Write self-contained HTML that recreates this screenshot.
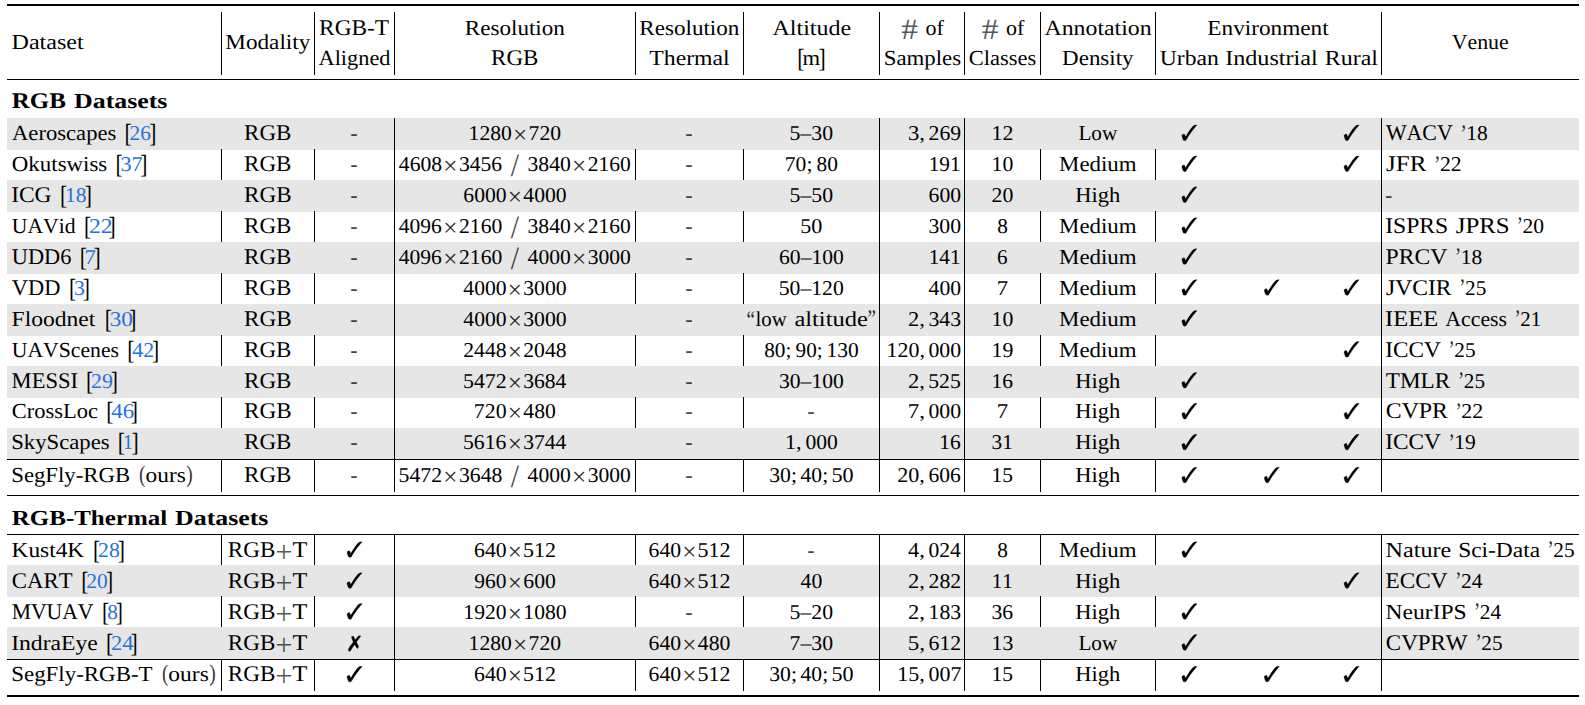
<!DOCTYPE html>
<html lang="en"><head><meta charset="utf-8"><title>Dataset comparison table</title>
<style>
html,body{margin:0;padding:0;background:#fff}
#p{position:relative;width:1585px;height:705px;overflow:hidden;background:#fff;font-family:"Liberation Serif",serif}
#p svg{position:absolute;left:0;top:0}
.t{position:absolute;left:0;top:0;white-space:pre;font:21.65px/30px "Liberation Serif",serif;font-kerning:none;text-rendering:geometricPrecision;transform-origin:0 0;color:#000}
.b{font-weight:bold}
.c{color:#2472de}
</style></head><body>
<div id="p">

<svg width="1585" height="705" viewBox="0 0 1585 705" shape-rendering="crispEdges">
<rect x="221" y="12" width="1" height="63" fill="#000"/>
<rect x="221" y="118" width="1" height="374" fill="#000"/>
<rect x="221" y="534" width="1" height="157" fill="#000"/>
<rect x="314" y="12" width="1" height="63" fill="#000"/>
<rect x="314" y="118" width="1" height="374" fill="#000"/>
<rect x="314" y="534" width="1" height="157" fill="#000"/>
<rect x="394" y="12" width="1" height="63" fill="#000"/>
<rect x="394" y="118" width="1" height="374" fill="#000"/>
<rect x="394" y="534" width="1" height="157" fill="#000"/>
<rect x="635" y="12" width="1" height="63" fill="#000"/>
<rect x="635" y="118" width="1" height="374" fill="#000"/>
<rect x="635" y="534" width="1" height="157" fill="#000"/>
<rect x="743" y="12" width="1" height="63" fill="#000"/>
<rect x="743" y="118" width="1" height="374" fill="#000"/>
<rect x="743" y="534" width="1" height="157" fill="#000"/>
<rect x="879" y="12" width="1" height="63" fill="#000"/>
<rect x="879" y="118" width="1" height="374" fill="#000"/>
<rect x="879" y="534" width="1" height="157" fill="#000"/>
<rect x="964" y="12" width="1" height="63" fill="#000"/>
<rect x="964" y="118" width="1" height="374" fill="#000"/>
<rect x="964" y="534" width="1" height="157" fill="#000"/>
<rect x="1040" y="12" width="1" height="63" fill="#000"/>
<rect x="1040" y="118" width="1" height="374" fill="#000"/>
<rect x="1040" y="534" width="1" height="157" fill="#000"/>
<rect x="1155" y="12" width="1" height="63" fill="#000"/>
<rect x="1155" y="118" width="1" height="374" fill="#000"/>
<rect x="1155" y="534" width="1" height="157" fill="#000"/>
<rect x="1381" y="12" width="1" height="63" fill="#000"/>
<rect x="1381" y="118" width="1" height="374" fill="#000"/>
<rect x="1381" y="534" width="1" height="157" fill="#000"/>
<rect x="7" y="118" width="1572" height="32" fill="#e6e6e6"/>
<rect x="7" y="180" width="1572" height="32" fill="#e6e6e6"/>
<rect x="7" y="242" width="1572" height="32" fill="#e6e6e6"/>
<rect x="7" y="304" width="1572" height="32" fill="#e6e6e6"/>
<rect x="7" y="366" width="1572" height="32" fill="#e6e6e6"/>
<rect x="7" y="428" width="1572" height="31" fill="#e6e6e6"/>
<rect x="7" y="565" width="1572" height="32" fill="#e6e6e6"/>
<rect x="7" y="627" width="1572" height="32" fill="#e6e6e6"/>
<rect x="394" y="118" width="1" height="32" fill="#000"/>
<rect x="394" y="180" width="1" height="32" fill="#000"/>
<rect x="394" y="242" width="1" height="32" fill="#000"/>
<rect x="394" y="304" width="1" height="32" fill="#000"/>
<rect x="394" y="366" width="1" height="32" fill="#000"/>
<rect x="394" y="428" width="1" height="31" fill="#000"/>
<rect x="394" y="565" width="1" height="32" fill="#000"/>
<rect x="394" y="627" width="1" height="32" fill="#000"/>
<rect x="879" y="118" width="1" height="32" fill="#000"/>
<rect x="879" y="180" width="1" height="32" fill="#000"/>
<rect x="879" y="242" width="1" height="32" fill="#000"/>
<rect x="879" y="304" width="1" height="32" fill="#000"/>
<rect x="879" y="366" width="1" height="32" fill="#000"/>
<rect x="879" y="428" width="1" height="31" fill="#000"/>
<rect x="879" y="565" width="1" height="32" fill="#000"/>
<rect x="879" y="627" width="1" height="32" fill="#000"/>
<rect x="964" y="118" width="1" height="32" fill="#000"/>
<rect x="964" y="180" width="1" height="32" fill="#000"/>
<rect x="964" y="242" width="1" height="32" fill="#000"/>
<rect x="964" y="304" width="1" height="32" fill="#000"/>
<rect x="964" y="366" width="1" height="32" fill="#000"/>
<rect x="964" y="428" width="1" height="31" fill="#000"/>
<rect x="964" y="565" width="1" height="32" fill="#000"/>
<rect x="964" y="627" width="1" height="32" fill="#000"/>
<rect x="1381" y="118" width="1" height="32" fill="#000"/>
<rect x="1381" y="180" width="1" height="32" fill="#000"/>
<rect x="1381" y="242" width="1" height="32" fill="#000"/>
<rect x="1381" y="304" width="1" height="32" fill="#000"/>
<rect x="1381" y="366" width="1" height="32" fill="#000"/>
<rect x="1381" y="428" width="1" height="31" fill="#000"/>
<rect x="1381" y="565" width="1" height="32" fill="#000"/>
<rect x="1381" y="627" width="1" height="32" fill="#000"/>
<rect x="221" y="149" width="1" height="1" fill="#000"/>
<rect x="221" y="211" width="1" height="1" fill="#000"/>
<rect x="221" y="273" width="1" height="1" fill="#000"/>
<rect x="221" y="335" width="1" height="1" fill="#000"/>
<rect x="221" y="397" width="1" height="1" fill="#000"/>
<rect x="221" y="596" width="1" height="1" fill="#000"/>
<rect x="314" y="149" width="1" height="1" fill="#000"/>
<rect x="314" y="211" width="1" height="1" fill="#000"/>
<rect x="314" y="273" width="1" height="1" fill="#000"/>
<rect x="314" y="335" width="1" height="1" fill="#000"/>
<rect x="314" y="397" width="1" height="1" fill="#000"/>
<rect x="314" y="596" width="1" height="1" fill="#000"/>
<rect x="635" y="149" width="1" height="1" fill="#000"/>
<rect x="635" y="211" width="1" height="1" fill="#000"/>
<rect x="635" y="273" width="1" height="1" fill="#000"/>
<rect x="635" y="335" width="1" height="1" fill="#000"/>
<rect x="635" y="397" width="1" height="1" fill="#000"/>
<rect x="635" y="596" width="1" height="1" fill="#000"/>
<rect x="743" y="149" width="1" height="1" fill="#000"/>
<rect x="743" y="211" width="1" height="1" fill="#000"/>
<rect x="743" y="273" width="1" height="1" fill="#000"/>
<rect x="743" y="335" width="1" height="1" fill="#000"/>
<rect x="743" y="397" width="1" height="1" fill="#000"/>
<rect x="743" y="596" width="1" height="1" fill="#000"/>
<rect x="1040" y="149" width="1" height="1" fill="#000"/>
<rect x="1040" y="211" width="1" height="1" fill="#000"/>
<rect x="1040" y="273" width="1" height="1" fill="#000"/>
<rect x="1040" y="335" width="1" height="1" fill="#000"/>
<rect x="1040" y="397" width="1" height="1" fill="#000"/>
<rect x="1040" y="596" width="1" height="1" fill="#000"/>
<rect x="1155" y="149" width="1" height="1" fill="#000"/>
<rect x="1155" y="211" width="1" height="1" fill="#000"/>
<rect x="1155" y="273" width="1" height="1" fill="#000"/>
<rect x="1155" y="335" width="1" height="1" fill="#000"/>
<rect x="1155" y="397" width="1" height="1" fill="#000"/>
<rect x="1155" y="596" width="1" height="1" fill="#000"/>
<rect x="7" y="4" width="1572" height="2" fill="#000"/>
<rect x="7" y="79" width="1572" height="1" fill="#000"/>
<rect x="7" y="459" width="1572" height="1" fill="#000"/>
<rect x="7" y="495" width="1572" height="1" fill="#000"/>
<rect x="7" y="534" width="1572" height="1" fill="#000"/>
<rect x="7" y="659" width="1572" height="1" fill="#000"/>
<rect x="7" y="695" width="1572" height="2" fill="#000"/>
<g shape-rendering="geometricPrecision" stroke="#000" stroke-width="13.8568" stroke-linejoin="round">
<path transform="translate(1181.14 140.25) scale(0.02165 -0.02165)" d="M721 705C665 706 598 686 557 657C480 580 335 378 231 202C218 179 212 172 206 172C200 172 193 180 186 197L157 268C151 283 146 288 134 288C112 288 80 274 52 253C39 243 34 234 34 221C34 180 68 77 106 4C114 -12 120 -14 161 -14C211 -14 223 -10 234 10C342 211 572 531 721 689Z"/>
<path transform="translate(1343.34 140.25) scale(0.02165 -0.02165)" d="M721 705C665 706 598 686 557 657C480 580 335 378 231 202C218 179 212 172 206 172C200 172 193 180 186 197L157 268C151 283 146 288 134 288C112 288 80 274 52 253C39 243 34 234 34 221C34 180 68 77 106 4C114 -12 120 -14 161 -14C211 -14 223 -10 234 10C342 211 572 531 721 689Z"/>
<path transform="translate(1181.14 171.18) scale(0.02165 -0.02165)" d="M721 705C665 706 598 686 557 657C480 580 335 378 231 202C218 179 212 172 206 172C200 172 193 180 186 197L157 268C151 283 146 288 134 288C112 288 80 274 52 253C39 243 34 234 34 221C34 180 68 77 106 4C114 -12 120 -14 161 -14C211 -14 223 -10 234 10C342 211 572 531 721 689Z"/>
<path transform="translate(1343.34 171.18) scale(0.02165 -0.02165)" d="M721 705C665 706 598 686 557 657C480 580 335 378 231 202C218 179 212 172 206 172C200 172 193 180 186 197L157 268C151 283 146 288 134 288C112 288 80 274 52 253C39 243 34 234 34 221C34 180 68 77 106 4C114 -12 120 -14 161 -14C211 -14 223 -10 234 10C342 211 572 531 721 689Z"/>
<path transform="translate(1181.14 202.11) scale(0.02165 -0.02165)" d="M721 705C665 706 598 686 557 657C480 580 335 378 231 202C218 179 212 172 206 172C200 172 193 180 186 197L157 268C151 283 146 288 134 288C112 288 80 274 52 253C39 243 34 234 34 221C34 180 68 77 106 4C114 -12 120 -14 161 -14C211 -14 223 -10 234 10C342 211 572 531 721 689Z"/>
<path transform="translate(1181.14 233.04) scale(0.02165 -0.02165)" d="M721 705C665 706 598 686 557 657C480 580 335 378 231 202C218 179 212 172 206 172C200 172 193 180 186 197L157 268C151 283 146 288 134 288C112 288 80 274 52 253C39 243 34 234 34 221C34 180 68 77 106 4C114 -12 120 -14 161 -14C211 -14 223 -10 234 10C342 211 572 531 721 689Z"/>
<path transform="translate(1181.14 263.97) scale(0.02165 -0.02165)" d="M721 705C665 706 598 686 557 657C480 580 335 378 231 202C218 179 212 172 206 172C200 172 193 180 186 197L157 268C151 283 146 288 134 288C112 288 80 274 52 253C39 243 34 234 34 221C34 180 68 77 106 4C114 -12 120 -14 161 -14C211 -14 223 -10 234 10C342 211 572 531 721 689Z"/>
<path transform="translate(1181.14 294.90) scale(0.02165 -0.02165)" d="M721 705C665 706 598 686 557 657C480 580 335 378 231 202C218 179 212 172 206 172C200 172 193 180 186 197L157 268C151 283 146 288 134 288C112 288 80 274 52 253C39 243 34 234 34 221C34 180 68 77 106 4C114 -12 120 -14 161 -14C211 -14 223 -10 234 10C342 211 572 531 721 689Z"/>
<path transform="translate(1263.54 294.90) scale(0.02165 -0.02165)" d="M721 705C665 706 598 686 557 657C480 580 335 378 231 202C218 179 212 172 206 172C200 172 193 180 186 197L157 268C151 283 146 288 134 288C112 288 80 274 52 253C39 243 34 234 34 221C34 180 68 77 106 4C114 -12 120 -14 161 -14C211 -14 223 -10 234 10C342 211 572 531 721 689Z"/>
<path transform="translate(1343.34 294.90) scale(0.02165 -0.02165)" d="M721 705C665 706 598 686 557 657C480 580 335 378 231 202C218 179 212 172 206 172C200 172 193 180 186 197L157 268C151 283 146 288 134 288C112 288 80 274 52 253C39 243 34 234 34 221C34 180 68 77 106 4C114 -12 120 -14 161 -14C211 -14 223 -10 234 10C342 211 572 531 721 689Z"/>
<path transform="translate(1181.14 325.83) scale(0.02165 -0.02165)" d="M721 705C665 706 598 686 557 657C480 580 335 378 231 202C218 179 212 172 206 172C200 172 193 180 186 197L157 268C151 283 146 288 134 288C112 288 80 274 52 253C39 243 34 234 34 221C34 180 68 77 106 4C114 -12 120 -14 161 -14C211 -14 223 -10 234 10C342 211 572 531 721 689Z"/>
<path transform="translate(1343.34 356.76) scale(0.02165 -0.02165)" d="M721 705C665 706 598 686 557 657C480 580 335 378 231 202C218 179 212 172 206 172C200 172 193 180 186 197L157 268C151 283 146 288 134 288C112 288 80 274 52 253C39 243 34 234 34 221C34 180 68 77 106 4C114 -12 120 -14 161 -14C211 -14 223 -10 234 10C342 211 572 531 721 689Z"/>
<path transform="translate(1181.14 387.69) scale(0.02165 -0.02165)" d="M721 705C665 706 598 686 557 657C480 580 335 378 231 202C218 179 212 172 206 172C200 172 193 180 186 197L157 268C151 283 146 288 134 288C112 288 80 274 52 253C39 243 34 234 34 221C34 180 68 77 106 4C114 -12 120 -14 161 -14C211 -14 223 -10 234 10C342 211 572 531 721 689Z"/>
<path transform="translate(1181.14 418.62) scale(0.02165 -0.02165)" d="M721 705C665 706 598 686 557 657C480 580 335 378 231 202C218 179 212 172 206 172C200 172 193 180 186 197L157 268C151 283 146 288 134 288C112 288 80 274 52 253C39 243 34 234 34 221C34 180 68 77 106 4C114 -12 120 -14 161 -14C211 -14 223 -10 234 10C342 211 572 531 721 689Z"/>
<path transform="translate(1343.34 418.62) scale(0.02165 -0.02165)" d="M721 705C665 706 598 686 557 657C480 580 335 378 231 202C218 179 212 172 206 172C200 172 193 180 186 197L157 268C151 283 146 288 134 288C112 288 80 274 52 253C39 243 34 234 34 221C34 180 68 77 106 4C114 -12 120 -14 161 -14C211 -14 223 -10 234 10C342 211 572 531 721 689Z"/>
<path transform="translate(1181.14 449.56) scale(0.02165 -0.02165)" d="M721 705C665 706 598 686 557 657C480 580 335 378 231 202C218 179 212 172 206 172C200 172 193 180 186 197L157 268C151 283 146 288 134 288C112 288 80 274 52 253C39 243 34 234 34 221C34 180 68 77 106 4C114 -12 120 -14 161 -14C211 -14 223 -10 234 10C342 211 572 531 721 689Z"/>
<path transform="translate(1343.34 449.56) scale(0.02165 -0.02165)" d="M721 705C665 706 598 686 557 657C480 580 335 378 231 202C218 179 212 172 206 172C200 172 193 180 186 197L157 268C151 283 146 288 134 288C112 288 80 274 52 253C39 243 34 234 34 221C34 180 68 77 106 4C114 -12 120 -14 161 -14C211 -14 223 -10 234 10C342 211 572 531 721 689Z"/>
<path transform="translate(1181.14 482.41) scale(0.02165 -0.02165)" d="M721 705C665 706 598 686 557 657C480 580 335 378 231 202C218 179 212 172 206 172C200 172 193 180 186 197L157 268C151 283 146 288 134 288C112 288 80 274 52 253C39 243 34 234 34 221C34 180 68 77 106 4C114 -12 120 -14 161 -14C211 -14 223 -10 234 10C342 211 572 531 721 689Z"/>
<path transform="translate(1263.54 482.41) scale(0.02165 -0.02165)" d="M721 705C665 706 598 686 557 657C480 580 335 378 231 202C218 179 212 172 206 172C200 172 193 180 186 197L157 268C151 283 146 288 134 288C112 288 80 274 52 253C39 243 34 234 34 221C34 180 68 77 106 4C114 -12 120 -14 161 -14C211 -14 223 -10 234 10C342 211 572 531 721 689Z"/>
<path transform="translate(1343.34 482.41) scale(0.02165 -0.02165)" d="M721 705C665 706 598 686 557 657C480 580 335 378 231 202C218 179 212 172 206 172C200 172 193 180 186 197L157 268C151 283 146 288 134 288C112 288 80 274 52 253C39 243 34 234 34 221C34 180 68 77 106 4C114 -12 120 -14 161 -14C211 -14 223 -10 234 10C342 211 572 531 721 689Z"/>
<path transform="translate(346.33 556.96) scale(0.02165 -0.02165)" d="M721 705C665 706 598 686 557 657C480 580 335 378 231 202C218 179 212 172 206 172C200 172 193 180 186 197L157 268C151 283 146 288 134 288C112 288 80 274 52 253C39 243 34 234 34 221C34 180 68 77 106 4C114 -12 120 -14 161 -14C211 -14 223 -10 234 10C342 211 572 531 721 689Z"/>
<path transform="translate(1181.14 556.96) scale(0.02165 -0.02165)" d="M721 705C665 706 598 686 557 657C480 580 335 378 231 202C218 179 212 172 206 172C200 172 193 180 186 197L157 268C151 283 146 288 134 288C112 288 80 274 52 253C39 243 34 234 34 221C34 180 68 77 106 4C114 -12 120 -14 161 -14C211 -14 223 -10 234 10C342 211 572 531 721 689Z"/>
<path transform="translate(346.33 587.96) scale(0.02165 -0.02165)" d="M721 705C665 706 598 686 557 657C480 580 335 378 231 202C218 179 212 172 206 172C200 172 193 180 186 197L157 268C151 283 146 288 134 288C112 288 80 274 52 253C39 243 34 234 34 221C34 180 68 77 106 4C114 -12 120 -14 161 -14C211 -14 223 -10 234 10C342 211 572 531 721 689Z"/>
<path transform="translate(1343.34 587.96) scale(0.02165 -0.02165)" d="M721 705C665 706 598 686 557 657C480 580 335 378 231 202C218 179 212 172 206 172C200 172 193 180 186 197L157 268C151 283 146 288 134 288C112 288 80 274 52 253C39 243 34 234 34 221C34 180 68 77 106 4C114 -12 120 -14 161 -14C211 -14 223 -10 234 10C342 211 572 531 721 689Z"/>
<path transform="translate(346.33 618.86) scale(0.02165 -0.02165)" d="M721 705C665 706 598 686 557 657C480 580 335 378 231 202C218 179 212 172 206 172C200 172 193 180 186 197L157 268C151 283 146 288 134 288C112 288 80 274 52 253C39 243 34 234 34 221C34 180 68 77 106 4C114 -12 120 -14 161 -14C211 -14 223 -10 234 10C342 211 572 531 721 689Z"/>
<path transform="translate(1181.14 618.86) scale(0.02165 -0.02165)" d="M721 705C665 706 598 686 557 657C480 580 335 378 231 202C218 179 212 172 206 172C200 172 193 180 186 197L157 268C151 283 146 288 134 288C112 288 80 274 52 253C39 243 34 234 34 221C34 180 68 77 106 4C114 -12 120 -14 161 -14C211 -14 223 -10 234 10C342 211 572 531 721 689Z"/>
<path transform="translate(348.32 649.86) scale(0.02165 -0.02165)" d="M374 367C421 432 516 556 534 576C543 587 551 597 560 607C564 612 568 616 569 618C571 619 572 621 572 622C572 623 566 633 564 635L555 645C555 646 553 649 551 652C547 658 546 660 545 660H544C543 660 541 658 540 657C536 653 533 650 530 646C529 645 527 643 523 640C510 650 493 660 488 660C484 660 482 658 447 619C373 533 336 489 318 467C313 479 313 479 305 494C286 529 272 557 261 579C233 636 233 636 225 636C222 636 218 634 217 633C215 630 213 627 211 625L204 618C200 619 198 619 196 619C194 619 192 619 188 618C181 623 177 625 173 625C163 625 145 603 145 591C145 590 148 582 152 572L184 479C196 447 207 416 219 385C220 381 224 371 229 356C106 206 69 158 51 126C32 92 19 69 15 64C5 51 -1 41 -1 35C-1 34 2 27 6 17C7 14 8 11 8 10C8 8 6 1 3 -9C2 -12 1 -14 1 -16C1 -24 1 -24 23 -59C28 -68 30 -69 38 -69C56 -69 80 -64 90 -57C137 24 217 149 288 250C321 193 321 193 388 94C407 67 412 61 420 61C432 61 452 77 452 86C452 88 451 91 449 95C448 96 448 98 448 99C448 101 451 104 458 109L468 117V124C476 128 479 131 482 138L479 148C475 156 475 157 462 184C444 223 426 262 399 317Z"/>
<path transform="translate(1181.14 649.86) scale(0.02165 -0.02165)" d="M721 705C665 706 598 686 557 657C480 580 335 378 231 202C218 179 212 172 206 172C200 172 193 180 186 197L157 268C151 283 146 288 134 288C112 288 80 274 52 253C39 243 34 234 34 221C34 180 68 77 106 4C114 -12 120 -14 161 -14C211 -14 223 -10 234 10C342 211 572 531 721 689Z"/>
<path transform="translate(346.33 681.56) scale(0.02165 -0.02165)" d="M721 705C665 706 598 686 557 657C480 580 335 378 231 202C218 179 212 172 206 172C200 172 193 180 186 197L157 268C151 283 146 288 134 288C112 288 80 274 52 253C39 243 34 234 34 221C34 180 68 77 106 4C114 -12 120 -14 161 -14C211 -14 223 -10 234 10C342 211 572 531 721 689Z"/>
<path transform="translate(1181.14 681.56) scale(0.02165 -0.02165)" d="M721 705C665 706 598 686 557 657C480 580 335 378 231 202C218 179 212 172 206 172C200 172 193 180 186 197L157 268C151 283 146 288 134 288C112 288 80 274 52 253C39 243 34 234 34 221C34 180 68 77 106 4C114 -12 120 -14 161 -14C211 -14 223 -10 234 10C342 211 572 531 721 689Z"/>
<path transform="translate(1263.54 681.56) scale(0.02165 -0.02165)" d="M721 705C665 706 598 686 557 657C480 580 335 378 231 202C218 179 212 172 206 172C200 172 193 180 186 197L157 268C151 283 146 288 134 288C112 288 80 274 52 253C39 243 34 234 34 221C34 180 68 77 106 4C114 -12 120 -14 161 -14C211 -14 223 -10 234 10C342 211 572 531 721 689Z"/>
<path transform="translate(1343.34 681.56) scale(0.02165 -0.02165)" d="M721 705C665 706 598 686 557 657C480 580 335 378 231 202C218 179 212 172 206 172C200 172 193 180 186 197L157 268C151 283 146 288 134 288C112 288 80 274 52 253C39 243 34 234 34 221C34 180 68 77 106 4C114 -12 120 -14 161 -14C211 -14 223 -10 234 10C342 211 572 531 721 689Z"/>
</g></svg>
<span class="t" style="transform:matrix(1.1104,0,0,0.9900,11.56,27.24)">Dataset</span>
<span class="t" style="transform:matrix(1.0709,0,0,0.9900,225.33,27.24)">Modality</span>
<span class="t" style="transform:matrix(1.0787,0,0,1.0350,319.08,12.25)">RGB-T</span>
<span class="t" style="transform:matrix(1.0321,0,0,0.9900,318.53,43.24)">Aligned</span>
<span class="t" style="transform:matrix(1.0660,0,0,0.9900,464.84,13.24)">Resolution</span>
<span class="t" style="transform:matrix(1.0622,0,0,1.0350,491.09,42.25)">RGB</span>
<span class="t" style="transform:matrix(1.0660,0,0,0.9900,639.34,13.24)">Resolution</span>
<span class="t" style="transform:matrix(1.0964,0,0,0.9900,649.32,43.24)">Thermal</span>
<span class="t" style="transform:matrix(1.1073,0,0,0.9900,772.52,13.24)">Altitude</span>
<span class="t" style="transform:matrix(1.0000,0,0,1.2138,797.14,40.32)">[</span>
<span class="t" style="transform:matrix(1.0438,0,0,0.9900,802.53,43.24)">m</span>
<span class="t" style="transform:matrix(1.0000,0,0,1.2138,818.40,40.32)">]</span>
<span class="t" style="transform:matrix(1.5434,0,0,1.3579,901.15,9.15);opacity:0.66">#</span>
<span class="t" style="transform:matrix(1.0168,0,0,0.9900,925.41,13.24)">of</span>
<span class="t" style="transform:matrix(1.0543,0,0,0.9900,883.72,43.24)">Samples</span>
<span class="t" style="transform:matrix(1.5434,0,0,1.3579,981.65,9.15);opacity:0.66">#</span>
<span class="t" style="transform:matrix(1.0168,0,0,0.9900,1005.91,13.24)">of</span>
<span class="t" style="transform:matrix(1.0390,0,0,0.9900,968.83,43.24)">Classes</span>
<span class="t" style="transform:matrix(1.0994,0,0,0.9900,1044.52,13.24)">Annotation</span>
<span class="t" style="transform:matrix(1.0617,0,0,0.9900,1062.09,43.24)">Density</span>
<span class="t" style="transform:matrix(1.0731,0,0,0.9900,1207.33,13.24)">Environment</span>
<span class="t" style="transform:matrix(1.0924,0,0,0.9900,1159.75,43.24)">Urban</span>
<span class="t" style="transform:matrix(1.1161,0,0,0.9900,1225.13,43.24)">Industrial</span>
<span class="t" style="transform:matrix(1.1054,0,0,0.9900,1324.81,43.24)">Rural</span>
<span class="t" style="transform:matrix(1.0088,0,0,0.9900,1451.75,27.24)">Venue</span>
<span class="t b" style="transform:matrix(1.1536,0,0,1.0350,11.82,85.25)">RGB</span>
<span class="t b" style="transform:matrix(1.1941,0,0,0.9900,74.05,86.24)">Datasets</span>
<span class="t b" style="transform:matrix(1.1533,0,0,0.9900,11.82,503.24)">RGB-Thermal</span>
<span class="t b" style="transform:matrix(1.1941,0,0,0.9900,175.05,503.24)">Datasets</span>
<span class="t" style="transform:matrix(1.0452,0,0,0.9900,12.03,118.24)">Aeroscapes</span>
<span class="t" style="transform:matrix(1.0000,0,0,1.2138,124.39,115.32)">[</span>
<span class="t c" style="transform:matrix(0.9849,0,0,0.9750,129.56,118.57)">26</span>
<span class="t" style="transform:matrix(1.0000,0,0,1.2138,149.15,115.32)">]</span>
<span class="t" style="transform:matrix(1.0622,0,0,1.0350,244.09,117.25)">RGB</span>
<span class="t" style="transform:matrix(1.0224,0,0,0.7728,350.18,122.02)">-</span>
<span class="t" style="transform:matrix(0.9982,0,0,0.9750,468.60,118.57)">1280</span>
<span class="t" style="transform:matrix(1.1640,0,0,1.1626,513.01,117.44);opacity:0.84">×</span>
<span class="t" style="transform:matrix(1.0009,0,0,0.9750,528.57,118.57)">720</span>
<span class="t" style="transform:matrix(1.0224,0,0,0.7728,685.18,122.02)">-</span>
<span class="t" style="transform:matrix(1.0069,0,0,0.9750,789.48,118.57)">5–30</span>
<span class="t" style="transform:matrix(1.0479,0,0,0.9750,907.91,118.57)">3,</span>
<span class="t" style="transform:matrix(1.0037,0,0,0.9750,928.55,118.57)">269</span>
<span class="t" style="transform:matrix(1.0106,0,0,0.9750,991.58,118.57)">12</span>
<span class="t" style="transform:matrix(0.9816,0,0,0.9900,1078.39,118.24)">Low</span>
<span class="t" style="transform:matrix(1.0094,0,0,1.0350,1385.98,117.25)">WACV</span>
<span class="t" style="transform:matrix(0.8529,0,0,1.1690,1460.38,116.30);opacity:0.85">’</span>
<span class="t" style="transform:matrix(0.9909,0,0,0.9750,1466.36,118.57)">18</span>
<span class="t" style="transform:matrix(1.0587,0,0,0.9900,11.81,149.24)">Okutswiss</span>
<span class="t" style="transform:matrix(1.0000,0,0,1.2138,115.39,146.32)">[</span>
<span class="t c" style="transform:matrix(1.0255,0,0,0.9750,120.44,149.57)">37</span>
<span class="t" style="transform:matrix(1.0000,0,0,1.2138,140.15,146.32)">]</span>
<span class="t" style="transform:matrix(1.0622,0,0,1.0350,244.09,148.25)">RGB</span>
<span class="t" style="transform:matrix(1.0224,0,0,0.7728,350.18,153.02)">-</span>
<span class="t" style="transform:matrix(0.9987,0,0,0.9750,398.83,149.57)">4608</span>
<span class="t" style="transform:matrix(1.1640,0,0,1.1626,443.26,148.44);opacity:0.84">×</span>
<span class="t" style="transform:matrix(0.9971,0,0,0.9750,458.97,149.57)">3456</span>
<span class="t" style="transform:matrix(1.3716,0,0,1.5018,510.75,142.98);opacity:0.73">/</span>
<span class="t" style="transform:matrix(1.0015,0,0,0.9750,527.46,149.57)">3840</span>
<span class="t" style="transform:matrix(1.1640,0,0,1.1626,572.01,148.44);opacity:0.84">×</span>
<span class="t" style="transform:matrix(0.9934,0,0,0.9750,587.80,149.57)">2160</span>
<span class="t" style="transform:matrix(1.0224,0,0,0.7728,685.18,153.02)">-</span>
<span class="t" style="transform:matrix(0.9968,0,0,0.9750,784.83,149.57)">70;</span>
<span class="t" style="transform:matrix(0.9875,0,0,0.9750,816.44,149.57)">80</span>
<span class="t" style="transform:matrix(0.9822,0,0,0.9750,928.63,149.57)">191</span>
<span class="t" style="transform:matrix(1.0041,0,0,0.9750,991.59,149.57)">10</span>
<span class="t" style="transform:matrix(1.0566,0,0,0.9900,1059.09,149.24)">Medium</span>
<span class="t" style="transform:matrix(1.1621,0,0,1.0350,1385.97,148.25)">JFR</span>
<span class="t" style="transform:matrix(0.8529,0,0,1.1690,1434.13,147.30);opacity:0.85">’</span>
<span class="t" style="transform:matrix(0.9998,0,0,0.9750,1440.05,149.57)">22</span>
<span class="t" style="transform:matrix(1.0816,0,0,1.0350,11.15,179.25)">ICG</span>
<span class="t" style="transform:matrix(1.0000,0,0,1.2138,59.89,177.32)">[</span>
<span class="t c" style="transform:matrix(0.9909,0,0,0.9750,65.11,180.57)">18</span>
<span class="t" style="transform:matrix(1.0000,0,0,1.2138,84.65,177.32)">]</span>
<span class="t" style="transform:matrix(1.0681,0,0,1.0350,244.08,179.25)">RGB</span>
<span class="t" style="transform:matrix(1.0224,0,0,0.7728,350.18,184.02)">-</span>
<span class="t" style="transform:matrix(0.9989,0,0,0.9750,463.32,180.57)">6000</span>
<span class="t" style="transform:matrix(1.1640,0,0,1.1626,507.76,179.44);opacity:0.84">×</span>
<span class="t" style="transform:matrix(0.9987,0,0,0.9750,523.33,180.57)">4000</span>
<span class="t" style="transform:matrix(1.0224,0,0,0.7728,685.18,184.02)">-</span>
<span class="t" style="transform:matrix(1.0069,0,0,0.9750,789.48,180.57)">5–50</span>
<span class="t" style="transform:matrix(1.0010,0,0,0.9750,928.57,180.57)">600</span>
<span class="t" style="transform:matrix(1.0063,0,0,0.9750,991.54,180.57)">20</span>
<span class="t" style="transform:matrix(1.0380,0,0,0.9900,1075.35,180.24)">High</span>
<span class="t" style="transform:matrix(1.0224,0,0,0.7728,1384.93,184.02)">-</span>
<span class="t" style="transform:matrix(0.9996,0,0,0.9900,11.80,211.24)">UAVid</span>
<span class="t" style="transform:matrix(1.0000,0,0,1.2138,83.89,208.32)">[</span>
<span class="t c" style="transform:matrix(1.0895,0,0,0.9750,88.96,211.57)">22</span>
<span class="t" style="transform:matrix(1.0000,0,0,1.2138,108.40,208.32)">]</span>
<span class="t" style="transform:matrix(1.0622,0,0,1.0350,244.09,210.25)">RGB</span>
<span class="t" style="transform:matrix(1.0224,0,0,0.7728,350.18,215.02)">-</span>
<span class="t" style="transform:matrix(0.9945,0,0,0.9750,398.83,211.57)">4096</span>
<span class="t" style="transform:matrix(1.1640,0,0,1.1626,443.26,210.44);opacity:0.84">×</span>
<span class="t" style="transform:matrix(0.9994,0,0,0.9750,459.05,211.57)">2160</span>
<span class="t" style="transform:matrix(1.3716,0,0,1.5018,510.75,204.98);opacity:0.73">/</span>
<span class="t" style="transform:matrix(1.0015,0,0,0.9750,527.46,211.57)">3840</span>
<span class="t" style="transform:matrix(1.1640,0,0,1.1626,572.01,210.44);opacity:0.84">×</span>
<span class="t" style="transform:matrix(0.9934,0,0,0.9750,587.80,211.57)">2160</span>
<span class="t" style="transform:matrix(1.0224,0,0,0.7728,685.18,215.02)">-</span>
<span class="t" style="transform:matrix(1.0221,0,0,0.9750,800.21,211.57)">50</span>
<span class="t" style="transform:matrix(1.0044,0,0,0.9750,928.46,211.57)">300</span>
<span class="t" style="transform:matrix(0.9808,0,0,0.9750,997.19,211.57)">8</span>
<span class="t" style="transform:matrix(1.0566,0,0,0.9900,1059.09,211.24)">Medium</span>
<span class="t" style="transform:matrix(1.0917,0,0,1.0350,1385.15,210.25)">ISPRS</span>
<span class="t" style="transform:matrix(1.1462,0,0,1.0350,1455.73,210.25)">JPRS</span>
<span class="t" style="transform:matrix(0.8529,0,0,1.1690,1516.63,208.30);opacity:0.85">’</span>
<span class="t" style="transform:matrix(0.9938,0,0,0.9750,1522.55,211.57)">20</span>
<span class="t" style="transform:matrix(1.0330,0,0,1.0350,11.78,241.25)">UDD6</span>
<span class="t" style="transform:matrix(1.0000,0,0,1.2138,79.64,239.32)">[</span>
<span class="t c" style="transform:matrix(1.0542,0,0,0.9750,84.50,242.57)">7</span>
<span class="t" style="transform:matrix(1.0000,0,0,1.2138,93.40,239.32)">]</span>
<span class="t" style="transform:matrix(1.0622,0,0,1.0350,244.09,241.25)">RGB</span>
<span class="t" style="transform:matrix(1.0224,0,0,0.7728,350.18,246.02)">-</span>
<span class="t" style="transform:matrix(0.9945,0,0,0.9750,398.83,242.57)">4096</span>
<span class="t" style="transform:matrix(1.1640,0,0,1.1626,443.26,241.44);opacity:0.84">×</span>
<span class="t" style="transform:matrix(0.9994,0,0,0.9750,459.05,242.57)">2160</span>
<span class="t" style="transform:matrix(1.3716,0,0,1.5018,510.75,235.98);opacity:0.73">/</span>
<span class="t" style="transform:matrix(0.9987,0,0,0.9750,527.58,242.57)">4000</span>
<span class="t" style="transform:matrix(1.1640,0,0,1.1626,572.01,241.44);opacity:0.84">×</span>
<span class="t" style="transform:matrix(0.9954,0,0,0.9750,587.72,242.57)">3000</span>
<span class="t" style="transform:matrix(1.0224,0,0,0.7728,685.18,246.02)">-</span>
<span class="t" style="transform:matrix(0.9969,0,0,0.9750,779.07,242.57)">60–100</span>
<span class="t" style="transform:matrix(0.9822,0,0,0.9750,928.63,242.57)">141</span>
<span class="t" style="transform:matrix(0.9730,0,0,0.9750,997.09,242.57)">6</span>
<span class="t" style="transform:matrix(1.0566,0,0,0.9900,1059.09,242.24)">Medium</span>
<span class="t" style="transform:matrix(1.0909,0,0,1.0350,1385.57,241.25)">PRCV</span>
<span class="t" style="transform:matrix(0.8529,0,0,1.1690,1454.88,239.30);opacity:0.85">’</span>
<span class="t" style="transform:matrix(0.9909,0,0,0.9750,1460.86,242.57)">18</span>
<span class="t" style="transform:matrix(1.0372,0,0,1.0350,11.75,272.25)">VDD</span>
<span class="t" style="transform:matrix(1.0000,0,0,1.2138,68.89,270.32)">[</span>
<span class="t c" style="transform:matrix(1.0063,0,0,0.9750,73.96,273.57)">3</span>
<span class="t" style="transform:matrix(1.0000,0,0,1.2138,82.65,270.32)">]</span>
<span class="t" style="transform:matrix(1.0622,0,0,1.0350,244.09,272.25)">RGB</span>
<span class="t" style="transform:matrix(1.0224,0,0,0.7728,350.18,277.02)">-</span>
<span class="t" style="transform:matrix(0.9987,0,0,0.9750,463.33,273.57)">4000</span>
<span class="t" style="transform:matrix(1.1640,0,0,1.1626,507.76,272.44);opacity:0.84">×</span>
<span class="t" style="transform:matrix(1.0015,0,0,0.9750,523.21,273.57)">3000</span>
<span class="t" style="transform:matrix(1.0224,0,0,0.7728,685.18,277.02)">-</span>
<span class="t" style="transform:matrix(1.0021,0,0,0.9750,778.74,273.57)">50–120</span>
<span class="t" style="transform:matrix(1.0007,0,0,0.9750,928.58,273.57)">400</span>
<span class="t" style="transform:matrix(1.0542,0,0,0.9750,996.75,273.57)">7</span>
<span class="t" style="transform:matrix(1.0566,0,0,0.9900,1059.09,273.24)">Medium</span>
<span class="t" style="transform:matrix(1.0894,0,0,1.0350,1386.00,272.25)">JVCIR</span>
<span class="t" style="transform:matrix(0.8529,0,0,1.1690,1459.13,270.30);opacity:0.85">’</span>
<span class="t" style="transform:matrix(0.9822,0,0,0.9750,1465.07,273.57)">25</span>
<span class="t" style="transform:matrix(1.0888,0,0,0.9900,11.57,304.24)">Floodnet</span>
<span class="t" style="transform:matrix(1.0000,0,0,1.2138,104.64,301.32)">[</span>
<span class="t c" style="transform:matrix(1.0738,0,0,0.9750,109.64,304.57)">30</span>
<span class="t" style="transform:matrix(1.0000,0,0,1.2138,129.15,301.32)">]</span>
<span class="t" style="transform:matrix(1.0681,0,0,1.0350,244.08,303.25)">RGB</span>
<span class="t" style="transform:matrix(1.0224,0,0,0.7728,350.18,308.02)">-</span>
<span class="t" style="transform:matrix(0.9987,0,0,0.9750,463.33,304.57)">4000</span>
<span class="t" style="transform:matrix(1.1640,0,0,1.1626,507.76,303.44);opacity:0.84">×</span>
<span class="t" style="transform:matrix(1.0015,0,0,0.9750,523.21,304.57)">3000</span>
<span class="t" style="transform:matrix(1.0224,0,0,0.7728,685.18,308.02)">-</span>
<span class="t" style="transform:matrix(0.8807,0,0,1.1690,746.59,302.30);opacity:0.84">“</span>
<span class="t" style="transform:matrix(0.9625,0,0,0.9900,755.58,304.24)">low</span>
<span class="t" style="transform:matrix(1.1314,0,0,0.9900,794.39,304.24)">altitude</span>
<span class="t" style="transform:matrix(0.8807,0,0,1.1690,867.45,301.30);opacity:0.82">”</span>
<span class="t" style="transform:matrix(1.0415,0,0,0.9750,908.01,304.57)">2,</span>
<span class="t" style="transform:matrix(1.0051,0,0,0.9750,928.46,304.57)">343</span>
<span class="t" style="transform:matrix(1.0041,0,0,0.9750,991.59,304.57)">10</span>
<span class="t" style="transform:matrix(1.0566,0,0,0.9900,1059.09,304.24)">Medium</span>
<span class="t" style="transform:matrix(1.1328,0,0,1.0350,1385.11,303.25)">IEEE</span>
<span class="t" style="transform:matrix(1.0071,0,0,0.9900,1445.29,304.24)">Access</span>
<span class="t" style="transform:matrix(0.8529,0,0,1.1690,1514.38,301.30);opacity:0.85">’</span>
<span class="t" style="transform:matrix(0.9666,0,0,0.9750,1520.33,304.57)">21</span>
<span class="t" style="transform:matrix(1.0020,0,0,0.9900,11.79,335.24)">UAVScenes</span>
<span class="t" style="transform:matrix(1.0000,0,0,1.2138,127.14,332.32)">[</span>
<span class="t c" style="transform:matrix(1.0109,0,0,0.9750,132.32,335.57)">42</span>
<span class="t" style="transform:matrix(1.0000,0,0,1.2138,151.90,332.32)">]</span>
<span class="t" style="transform:matrix(1.0622,0,0,1.0350,244.09,334.25)">RGB</span>
<span class="t" style="transform:matrix(1.0224,0,0,0.7728,350.18,339.02)">-</span>
<span class="t" style="transform:matrix(0.9994,0,0,0.9750,463.30,335.57)">2448</span>
<span class="t" style="transform:matrix(1.1640,0,0,1.1626,507.76,334.44);opacity:0.84">×</span>
<span class="t" style="transform:matrix(0.9994,0,0,0.9750,523.30,335.57)">2048</span>
<span class="t" style="transform:matrix(1.0224,0,0,0.7728,685.18,339.02)">-</span>
<span class="t" style="transform:matrix(0.9829,0,0,0.9750,764.19,335.57)">80;</span>
<span class="t" style="transform:matrix(0.9780,0,0,0.9750,795.57,335.57)">90;</span>
<span class="t" style="transform:matrix(0.9917,0,0,0.9750,826.61,335.57)">130</span>
<span class="t" style="transform:matrix(1.0109,0,0,0.9750,886.58,335.57)">120,</span>
<span class="t" style="transform:matrix(1.0056,0,0,0.9750,928.42,335.57)">000</span>
<span class="t" style="transform:matrix(1.0075,0,0,0.9750,991.58,335.57)">19</span>
<span class="t" style="transform:matrix(1.0566,0,0,0.9900,1059.09,335.24)">Medium</span>
<span class="t" style="transform:matrix(1.0750,0,0,1.0350,1385.16,334.25)">ICCV</span>
<span class="t" style="transform:matrix(0.8529,0,0,1.1690,1448.38,332.30);opacity:0.85">’</span>
<span class="t" style="transform:matrix(0.9822,0,0,0.9750,1454.32,335.57)">25</span>
<span class="t" style="transform:matrix(1.0420,0,0,1.0350,11.60,365.25)">MESSI</span>
<span class="t" style="transform:matrix(1.0000,0,0,1.2138,85.89,363.32)">[</span>
<span class="t c" style="transform:matrix(1.0096,0,0,0.9750,91.04,366.57)">29</span>
<span class="t" style="transform:matrix(1.0000,0,0,1.2138,110.65,363.32)">]</span>
<span class="t" style="transform:matrix(1.0622,0,0,1.0350,244.09,365.25)">RGB</span>
<span class="t" style="transform:matrix(1.0224,0,0,0.7728,350.18,370.02)">-</span>
<span class="t" style="transform:matrix(1.0099,0,0,0.9750,462.98,366.57)">5472</span>
<span class="t" style="transform:matrix(1.1640,0,0,1.1626,507.76,365.44);opacity:0.84">×</span>
<span class="t" style="transform:matrix(0.9958,0,0,0.9750,523.22,366.57)">3684</span>
<span class="t" style="transform:matrix(1.0224,0,0,0.7728,685.18,370.02)">-</span>
<span class="t" style="transform:matrix(0.9986,0,0,0.9750,778.97,366.57)">30–100</span>
<span class="t" style="transform:matrix(1.0415,0,0,0.9750,908.01,366.57)">2,</span>
<span class="t" style="transform:matrix(1.0042,0,0,0.9750,928.24,366.57)">525</span>
<span class="t" style="transform:matrix(0.9946,0,0,0.9750,991.61,366.57)">16</span>
<span class="t" style="transform:matrix(1.0380,0,0,0.9900,1075.35,366.24)">High</span>
<span class="t" style="transform:matrix(1.0717,0,0,1.0350,1385.83,365.25)">TMLR</span>
<span class="t" style="transform:matrix(0.8529,0,0,1.1690,1457.88,363.30);opacity:0.85">’</span>
<span class="t" style="transform:matrix(0.9822,0,0,0.9750,1463.82,366.57)">25</span>
<span class="t" style="transform:matrix(1.0377,0,0,0.9900,11.83,396.24)">CrossLoc</span>
<span class="t" style="transform:matrix(1.0000,0,0,1.2138,106.14,393.32)">[</span>
<span class="t c" style="transform:matrix(1.0567,0,0,0.9750,111.30,396.57)">46</span>
<span class="t" style="transform:matrix(1.0000,0,0,1.2138,130.65,393.32)">]</span>
<span class="t" style="transform:matrix(1.0681,0,0,1.0350,244.08,395.25)">RGB</span>
<span class="t" style="transform:matrix(1.0224,0,0,0.7728,350.18,400.02)">-</span>
<span class="t" style="transform:matrix(1.0092,0,0,0.9750,473.81,396.57)">720</span>
<span class="t" style="transform:matrix(1.1640,0,0,1.1626,507.76,395.44);opacity:0.84">×</span>
<span class="t" style="transform:matrix(1.0007,0,0,0.9750,523.33,396.57)">480</span>
<span class="t" style="transform:matrix(1.0224,0,0,0.7728,685.18,400.02)">-</span>
<span class="t" style="transform:matrix(1.0224,0,0,0.7728,807.18,400.02)">-</span>
<span class="t" style="transform:matrix(1.0597,0,0,0.9750,907.74,396.57)">7,</span>
<span class="t" style="transform:matrix(1.0056,0,0,0.9750,928.42,396.57)">000</span>
<span class="t" style="transform:matrix(1.0542,0,0,0.9750,996.75,396.57)">7</span>
<span class="t" style="transform:matrix(1.0380,0,0,0.9900,1075.35,396.24)">High</span>
<span class="t" style="transform:matrix(1.1009,0,0,1.0350,1385.77,395.25)">CVPR</span>
<span class="t" style="transform:matrix(0.8529,0,0,1.1690,1455.38,394.30);opacity:0.85">’</span>
<span class="t" style="transform:matrix(1.0126,0,0,0.9750,1461.29,396.57)">22</span>
<span class="t" style="transform:matrix(1.0483,0,0,0.9900,11.23,427.24)">SkyScapes</span>
<span class="t" style="transform:matrix(1.0000,0,0,1.2138,117.64,424.32)">[</span>
<span class="t c" style="transform:matrix(0.9184,0,0,0.9750,123.00,427.57)">1</span>
<span class="t" style="transform:matrix(1.0000,0,0,1.2138,131.40,424.32)">]</span>
<span class="t" style="transform:matrix(1.0622,0,0,1.0350,244.09,426.25)">RGB</span>
<span class="t" style="transform:matrix(1.0224,0,0,0.7728,350.18,431.02)">-</span>
<span class="t" style="transform:matrix(1.0025,0,0,0.9750,462.99,427.57)">5616</span>
<span class="t" style="transform:matrix(1.1640,0,0,1.1626,507.76,426.44);opacity:0.84">×</span>
<span class="t" style="transform:matrix(0.9958,0,0,0.9750,523.22,427.57)">3744</span>
<span class="t" style="transform:matrix(1.0224,0,0,0.7728,685.18,431.02)">-</span>
<span class="t" style="transform:matrix(1.0215,0,0,0.9750,785.06,427.57)">1,</span>
<span class="t" style="transform:matrix(0.9975,0,0,0.9750,805.43,427.57)">000</span>
<span class="t" style="transform:matrix(0.9946,0,0,0.9750,939.36,427.57)">16</span>
<span class="t" style="transform:matrix(0.9838,0,0,0.9750,991.48,427.57)">31</span>
<span class="t" style="transform:matrix(1.0380,0,0,0.9900,1075.35,427.24)">High</span>
<span class="t" style="transform:matrix(1.0750,0,0,1.0350,1385.16,426.25)">ICCV</span>
<span class="t" style="transform:matrix(0.8529,0,0,1.1690,1448.38,425.30);opacity:0.85">’</span>
<span class="t" style="transform:matrix(0.9942,0,0,0.9750,1454.36,427.57)">19</span>
<span class="t" style="transform:matrix(1.0513,0,0,0.9900,11.23,460.24)">SegFly-RGB</span>
<span class="t" style="transform:matrix(0.8992,0,0,1.1079,138.89,457.65);opacity:0.78">(</span>
<span class="t" style="transform:matrix(1.0791,0,0,0.9900,145.61,460.24)">ours</span>
<span class="t" style="transform:matrix(0.8992,0,0,1.0952,186.37,457.93);opacity:0.79">)</span>
<span class="t" style="transform:matrix(1.0622,0,0,1.0350,244.09,459.25)">RGB</span>
<span class="t" style="transform:matrix(1.0224,0,0,0.7728,350.18,464.02)">-</span>
<span class="t" style="transform:matrix(1.0099,0,0,0.9750,398.48,460.57)">5472</span>
<span class="t" style="transform:matrix(1.1640,0,0,1.1626,443.26,459.44);opacity:0.84">×</span>
<span class="t" style="transform:matrix(1.0015,0,0,0.9750,458.96,460.57)">3648</span>
<span class="t" style="transform:matrix(1.3716,0,0,1.5018,510.75,453.98);opacity:0.73">/</span>
<span class="t" style="transform:matrix(0.9987,0,0,0.9750,527.58,460.57)">4000</span>
<span class="t" style="transform:matrix(1.1640,0,0,1.1626,572.01,459.44);opacity:0.84">×</span>
<span class="t" style="transform:matrix(0.9954,0,0,0.9750,587.72,460.57)">3000</span>
<span class="t" style="transform:matrix(1.0224,0,0,0.7728,685.18,464.02)">-</span>
<span class="t" style="transform:matrix(1.0012,0,0,0.9750,769.21,460.57)">30;</span>
<span class="t" style="transform:matrix(0.9968,0,0,0.9750,800.58,460.57)">40;</span>
<span class="t" style="transform:matrix(1.0221,0,0,0.9750,831.46,460.57)">50</span>
<span class="t" style="transform:matrix(1.0203,0,0,0.9750,897.28,460.57)">20,</span>
<span class="t" style="transform:matrix(0.9951,0,0,0.9750,928.57,460.57)">606</span>
<span class="t" style="transform:matrix(0.9920,0,0,0.9750,991.61,460.57)">15</span>
<span class="t" style="transform:matrix(1.0380,0,0,0.9900,1075.35,460.24)">High</span>
<span class="t" style="transform:matrix(1.0787,0,0,0.9900,11.58,535.24)">Kust4K</span>
<span class="t" style="transform:matrix(1.0000,0,0,1.2138,92.89,532.32)">[</span>
<span class="t c" style="transform:matrix(1.0063,0,0,0.9750,98.04,535.57)">28</span>
<span class="t" style="transform:matrix(1.0000,0,0,1.2138,117.65,532.32)">]</span>
<span class="t" style="transform:matrix(1.0681,0,0,1.0350,227.83,534.25)">RGB</span>
<span class="t" style="transform:matrix(1.4145,0,0,1.4130,275.22,530.93);opacity:0.66">+</span>
<span class="t" style="transform:matrix(1.1223,0,0,1.0350,292.56,534.25)">T</span>
<span class="t" style="transform:matrix(1.0010,0,0,0.9750,474.07,535.57)">640</span>
<span class="t" style="transform:matrix(1.1640,0,0,1.1626,507.76,534.44);opacity:0.84">×</span>
<span class="t" style="transform:matrix(1.0159,0,0,0.9750,522.97,535.57)">512</span>
<span class="t" style="transform:matrix(1.0010,0,0,0.9750,648.57,535.57)">640</span>
<span class="t" style="transform:matrix(1.1640,0,0,1.1626,682.26,534.44);opacity:0.84">×</span>
<span class="t" style="transform:matrix(1.0159,0,0,0.9750,697.47,535.57)">512</span>
<span class="t" style="transform:matrix(1.0224,0,0,0.7728,807.18,539.02)">-</span>
<span class="t" style="transform:matrix(1.0380,0,0,0.9750,908.06,535.57)">4,</span>
<span class="t" style="transform:matrix(0.9980,0,0,0.9750,928.43,535.57)">024</span>
<span class="t" style="transform:matrix(0.9808,0,0,0.9750,997.19,535.57)">8</span>
<span class="t" style="transform:matrix(1.0566,0,0,0.9900,1059.09,535.24)">Medium</span>
<span class="t" style="transform:matrix(1.1168,0,0,0.9900,1385.55,535.24)">Nature</span>
<span class="t" style="transform:matrix(1.0811,0,0,0.9900,1458.18,535.24)">Sci-Data</span>
<span class="t" style="transform:matrix(0.8529,0,0,1.1690,1547.38,532.30);opacity:0.85">’</span>
<span class="t" style="transform:matrix(0.9822,0,0,0.9750,1553.32,535.57)">25</span>
<span class="t" style="transform:matrix(1.0532,0,0,1.0350,11.81,565.25)">CART</span>
<span class="t" style="transform:matrix(1.0000,0,0,1.2138,81.14,563.32)">[</span>
<span class="t c" style="transform:matrix(0.9938,0,0,0.9750,86.30,566.57)">20</span>
<span class="t" style="transform:matrix(1.0000,0,0,1.2138,105.90,563.32)">]</span>
<span class="t" style="transform:matrix(1.0681,0,0,1.0350,227.83,565.25)">RGB</span>
<span class="t" style="transform:matrix(1.4145,0,0,1.4130,275.22,561.93);opacity:0.66">+</span>
<span class="t" style="transform:matrix(1.1223,0,0,1.0350,292.56,565.25)">T</span>
<span class="t" style="transform:matrix(0.9935,0,0,0.9750,474.31,566.57)">960</span>
<span class="t" style="transform:matrix(1.1640,0,0,1.1626,507.76,565.44);opacity:0.84">×</span>
<span class="t" style="transform:matrix(1.0010,0,0,0.9750,523.32,566.57)">600</span>
<span class="t" style="transform:matrix(1.0010,0,0,0.9750,648.57,566.57)">640</span>
<span class="t" style="transform:matrix(1.1640,0,0,1.1626,682.26,565.44);opacity:0.84">×</span>
<span class="t" style="transform:matrix(1.0159,0,0,0.9750,697.47,566.57)">512</span>
<span class="t" style="transform:matrix(1.0048,0,0,0.9750,800.58,566.57)">40</span>
<span class="t" style="transform:matrix(1.0415,0,0,0.9750,908.01,566.57)">2,</span>
<span class="t" style="transform:matrix(1.0056,0,0,0.9750,928.54,566.57)">282</span>
<span class="t" style="transform:matrix(0.9758,0,0,0.9750,991.64,566.57)">11</span>
<span class="t" style="transform:matrix(1.0380,0,0,0.9900,1075.35,566.24)">High</span>
<span class="t" style="transform:matrix(1.0726,0,0,1.0350,1385.58,565.25)">ECCV</span>
<span class="t" style="transform:matrix(0.8529,0,0,1.1690,1455.13,563.30);opacity:0.85">’</span>
<span class="t" style="transform:matrix(0.9946,0,0,0.9750,1461.05,566.57)">24</span>
<span class="t" style="transform:matrix(1.0009,0,0,1.0350,11.63,596.25)">MVUAV</span>
<span class="t" style="transform:matrix(1.0000,0,0,1.2138,101.89,594.32)">[</span>
<span class="t c" style="transform:matrix(0.9808,0,0,0.9750,107.19,597.57)">8</span>
<span class="t" style="transform:matrix(1.0000,0,0,1.2138,115.65,594.32)">]</span>
<span class="t" style="transform:matrix(1.0681,0,0,1.0350,227.83,596.25)">RGB</span>
<span class="t" style="transform:matrix(1.4145,0,0,1.4130,275.22,592.93);opacity:0.66">+</span>
<span class="t" style="transform:matrix(1.1223,0,0,1.0350,292.56,596.25)">T</span>
<span class="t" style="transform:matrix(0.9982,0,0,0.9750,463.35,597.57)">1920</span>
<span class="t" style="transform:matrix(1.1640,0,0,1.1626,507.76,596.44);opacity:0.84">×</span>
<span class="t" style="transform:matrix(0.9982,0,0,0.9750,523.35,597.57)">1080</span>
<span class="t" style="transform:matrix(1.0224,0,0,0.7728,685.18,601.02)">-</span>
<span class="t" style="transform:matrix(1.0069,0,0,0.9750,789.48,597.57)">5–20</span>
<span class="t" style="transform:matrix(1.0415,0,0,0.9750,908.01,597.57)">2,</span>
<span class="t" style="transform:matrix(1.0008,0,0,0.9750,928.60,597.57)">183</span>
<span class="t" style="transform:matrix(1.0015,0,0,0.9750,991.46,597.57)">36</span>
<span class="t" style="transform:matrix(1.0380,0,0,0.9900,1075.35,597.24)">High</span>
<span class="t" style="transform:matrix(1.0881,0,0,0.9900,1385.57,597.24)">NeurIPS</span>
<span class="t" style="transform:matrix(0.8529,0,0,1.1690,1473.88,594.30);opacity:0.85">’</span>
<span class="t" style="transform:matrix(0.9823,0,0,0.9750,1479.82,597.57)">24</span>
<span class="t" style="transform:matrix(1.0925,0,0,0.9900,11.15,628.24)">IndraEye</span>
<span class="t" style="transform:matrix(1.0000,0,0,1.2138,105.89,625.32)">[</span>
<span class="t c" style="transform:matrix(1.0437,0,0,0.9750,111.01,628.57)">24</span>
<span class="t" style="transform:matrix(1.0000,0,0,1.2138,130.40,625.32)">]</span>
<span class="t" style="transform:matrix(1.0681,0,0,1.0350,227.83,627.25)">RGB</span>
<span class="t" style="transform:matrix(1.4145,0,0,1.4130,275.22,623.93);opacity:0.66">+</span>
<span class="t" style="transform:matrix(1.1223,0,0,1.0350,292.56,627.25)">T</span>
<span class="t" style="transform:matrix(0.9982,0,0,0.9750,468.60,628.57)">1280</span>
<span class="t" style="transform:matrix(1.1640,0,0,1.1626,513.01,627.44);opacity:0.84">×</span>
<span class="t" style="transform:matrix(1.0009,0,0,0.9750,528.57,628.57)">720</span>
<span class="t" style="transform:matrix(1.0010,0,0,0.9750,648.57,628.57)">640</span>
<span class="t" style="transform:matrix(1.1640,0,0,1.1626,682.26,627.44);opacity:0.84">×</span>
<span class="t" style="transform:matrix(1.0007,0,0,0.9750,697.83,628.57)">480</span>
<span class="t" style="transform:matrix(1.0049,0,0,0.9750,789.57,628.57)">7–30</span>
<span class="t" style="transform:matrix(1.0649,0,0,0.9750,907.66,628.57)">5,</span>
<span class="t" style="transform:matrix(1.0049,0,0,0.9750,928.57,628.57)">612</span>
<span class="t" style="transform:matrix(1.0052,0,0,0.9750,991.59,628.57)">13</span>
<span class="t" style="transform:matrix(0.9816,0,0,0.9900,1078.39,628.24)">Low</span>
<span class="t" style="transform:matrix(1.0617,0,0,1.0350,1385.81,627.25)">CVPRW</span>
<span class="t" style="transform:matrix(0.8529,0,0,1.1690,1475.38,625.30);opacity:0.85">’</span>
<span class="t" style="transform:matrix(0.9822,0,0,0.9750,1481.32,628.57)">25</span>
<span class="t" style="transform:matrix(1.0592,0,0,0.9900,11.22,659.24)">SegFly-RGB-T</span>
<span class="t" style="transform:matrix(0.8992,0,0,1.1079,161.89,656.65);opacity:0.78">(</span>
<span class="t" style="transform:matrix(1.0861,0,0,0.9900,168.35,659.24)">ours</span>
<span class="t" style="transform:matrix(0.8992,0,0,1.0952,209.37,656.93);opacity:0.79">)</span>
<span class="t" style="transform:matrix(1.0681,0,0,1.0350,227.83,658.25)">RGB</span>
<span class="t" style="transform:matrix(1.4145,0,0,1.4130,275.22,654.93);opacity:0.66">+</span>
<span class="t" style="transform:matrix(1.1223,0,0,1.0350,292.56,658.25)">T</span>
<span class="t" style="transform:matrix(1.0010,0,0,0.9750,474.07,659.57)">640</span>
<span class="t" style="transform:matrix(1.1640,0,0,1.1626,507.76,658.44);opacity:0.84">×</span>
<span class="t" style="transform:matrix(1.0159,0,0,0.9750,522.97,659.57)">512</span>
<span class="t" style="transform:matrix(1.0010,0,0,0.9750,648.57,659.57)">640</span>
<span class="t" style="transform:matrix(1.1640,0,0,1.1626,682.26,658.44);opacity:0.84">×</span>
<span class="t" style="transform:matrix(1.0159,0,0,0.9750,697.47,659.57)">512</span>
<span class="t" style="transform:matrix(1.0012,0,0,0.9750,769.21,659.57)">30;</span>
<span class="t" style="transform:matrix(0.9968,0,0,0.9750,800.58,659.57)">40;</span>
<span class="t" style="transform:matrix(1.0221,0,0,0.9750,831.46,659.57)">50</span>
<span class="t" style="transform:matrix(1.0191,0,0,0.9750,897.31,659.57)">15,</span>
<span class="t" style="transform:matrix(1.0153,0,0,0.9750,928.41,659.57)">007</span>
<span class="t" style="transform:matrix(0.9920,0,0,0.9750,991.61,659.57)">15</span>
<span class="t" style="transform:matrix(1.0380,0,0,0.9900,1075.35,659.24)">High</span>
</div>
</body></html>
